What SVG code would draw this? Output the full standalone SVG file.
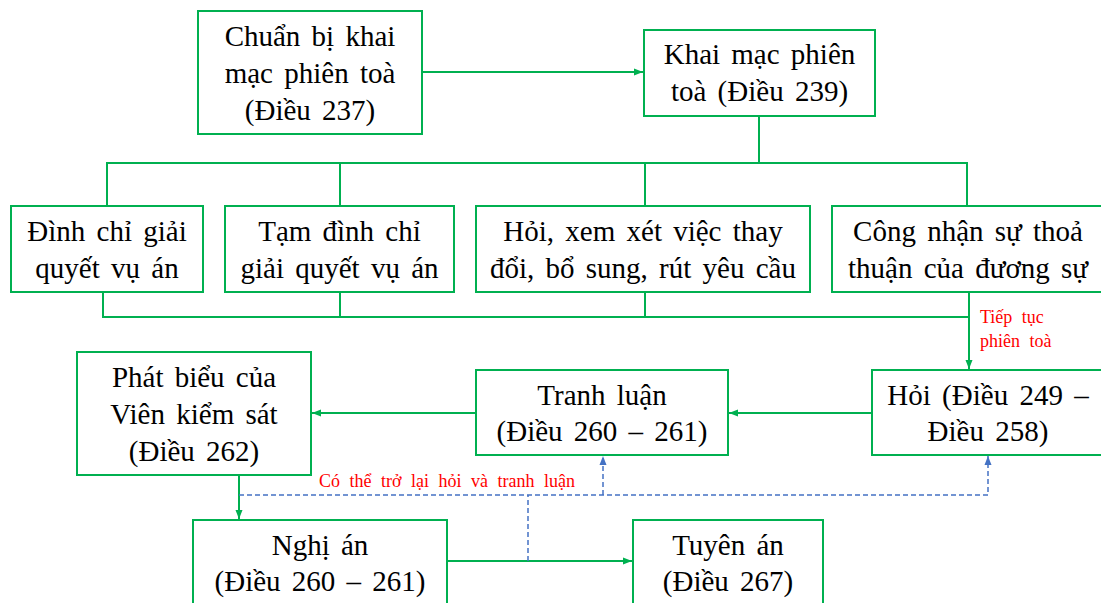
<svg xmlns="http://www.w3.org/2000/svg" width="1101" height="603" viewBox="0 0 1101 603">
<defs>
<style>
.box{fill:#FFFFFF;stroke:#00B050;stroke-width:2}
.t{font-family:"Liberation Serif","Times New Roman",serif;font-size:29px;fill:#000000;text-anchor:middle;word-spacing:4px}
.r{font-family:"Liberation Serif","Times New Roman",serif;font-size:18px;fill:#FF0000;word-spacing:5px}
.g{fill:none;stroke:#00B050;stroke-width:2}
.b{fill:none;stroke:#4472C4;stroke-width:1.5;stroke-dasharray:5 3}
</style>
<marker id="ag" markerUnits="userSpaceOnUse" markerWidth="10" markerHeight="10" refX="9" refY="5" orient="auto">
<path d="M0,1.5 L9,5 L0,8.5 Z" fill="#00B050"/>
</marker>
<marker id="ab" markerUnits="userSpaceOnUse" markerWidth="10" markerHeight="10" refX="9" refY="5" orient="auto">
<path d="M0,1.5 L9,5 L0,8.5 Z" fill="#4472C4"/>
</marker>
</defs>
<rect width="1101" height="603" fill="#FFFFFF"/>
<g id="connectors">
<line class="g" x1="422" y1="72" x2="643" y2="72" marker-end="url(#ag)"/>
<polyline class="g" points="759,116 759,163"/>
<polyline class="g" points="107,206 107,163 967,163 967,206"/>
<line class="g" x1="340" y1="163" x2="340" y2="206"/>
<line class="g" x1="645" y1="163" x2="645" y2="206"/>
<polyline class="g" points="103,292 103,317 969,317"/>
<line class="g" x1="340" y1="292" x2="340" y2="317"/>
<line class="g" x1="645" y1="292" x2="645" y2="317"/>
<line class="g" x1="969" y1="292" x2="969" y2="369" marker-end="url(#ag)"/>
<line class="g" x1="872" y1="413" x2="729" y2="413" marker-end="url(#ag)"/>
<line class="g" x1="476" y1="413" x2="312" y2="413" marker-end="url(#ag)"/>
<line class="g" x1="239" y1="475" x2="239" y2="519" marker-end="url(#ag)"/>
<line class="g" x1="447" y1="561" x2="632" y2="561" marker-end="url(#ag)"/>
<polyline class="b" points="239,495 988,495 988,456" marker-end="url(#ab)"/>
<line class="b" x1="603" y1="495" x2="603" y2="456" marker-end="url(#ab)"/>
<line class="b" x1="528" y1="561" x2="528" y2="495"/>
<text class="r" x="980" y="323">Tiếp tục</text>
<text class="r" x="980" y="347">phiên toà</text>
<text class="r" x="319" y="487">Có thể trở lại hỏi và tranh luận</text>
</g>
<g id="n-chuanbi">
<rect class="box" x="198" y="11" width="224" height="123"/>
<text class="t" x="310" y="46">Chuẩn bị khai</text>
<text class="t" x="310" y="83">mạc phiên toà</text>
<text class="t" x="310" y="120">(Điều 237)</text>
</g>
<g id="n-khaimac">
<rect class="box" x="644" y="30" width="231" height="86"/>
<text class="t" x="759.5" y="64">Khai mạc phiên</text>
<text class="t" x="759.5" y="101">toà (Điều 239)</text>
</g>
<g id="n-dinhchi">
<rect class="box" x="11" y="206" width="192" height="86"/>
<text class="t" x="107" y="241">Đình chỉ giải</text>
<text class="t" x="107" y="278">quyết vụ án</text>
</g>
<g id="n-tamdinhchi">
<rect class="box" x="225" y="206" width="229" height="86"/>
<text class="t" x="339.5" y="241">Tạm đình chỉ</text>
<text class="t" x="339.5" y="278">giải quyết vụ án</text>
</g>
<g id="n-hoixem">
<rect class="box" x="476" y="206" width="334" height="86"/>
<text class="t" x="643" y="241">Hỏi, xem xét việc thay</text>
<text class="t" x="643" y="278">đổi, bổ sung, rút yêu cầu</text>
</g>
<g id="n-congnhan">
<rect class="box" x="832" y="206" width="272" height="86"/>
<text class="t" x="968" y="241">Công nhận sự thoả</text>
<text class="t" x="968" y="278">thuận của đương sự</text>
</g>
<g id="n-hoi">
<rect class="box" x="872" y="370" width="232" height="85"/>
<text class="t" x="988" y="405">Hỏi (Điều 249 –</text>
<text class="t" x="988" y="441">Điều 258)</text>
</g>
<g id="n-tranhluan">
<rect class="box" x="476" y="370" width="252" height="85"/>
<text class="t" x="602" y="405">Tranh luận</text>
<text class="t" x="602" y="441">(Điều 260 – 261)</text>
</g>
<g id="n-phatbieu">
<rect class="box" x="77" y="352" width="234" height="123"/>
<text class="t" x="194" y="387">Phát biểu của</text>
<text class="t" x="194" y="424">Viên kiểm sát</text>
<text class="t" x="194" y="461">(Điều 262)</text>
</g>
<g id="n-nghian">
<rect class="box" x="193" y="520" width="254" height="90"/>
<text class="t" x="320" y="555">Nghị án</text>
<text class="t" x="320" y="591">(Điều 260 – 261)</text>
</g>
<g id="n-tuyenan">
<rect class="box" x="633" y="520" width="190" height="90"/>
<text class="t" x="728" y="555">Tuyên án</text>
<text class="t" x="728" y="591">(Điều 267)</text>
</g>
</svg>
